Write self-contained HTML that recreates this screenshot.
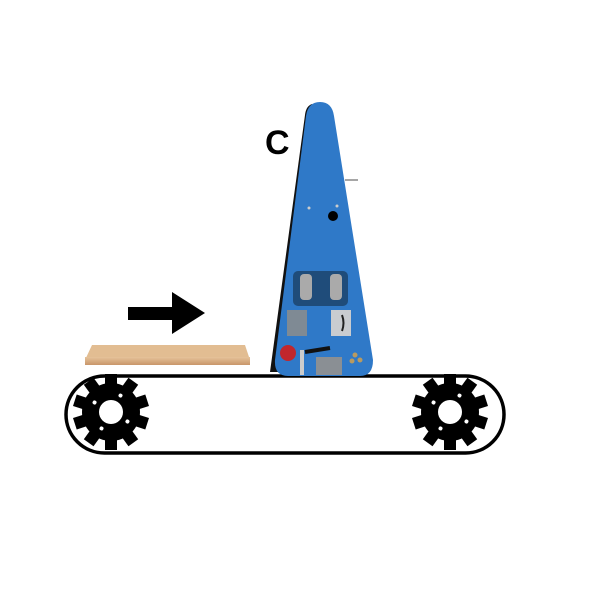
<!DOCTYPE html>
<html><head><style>body{margin:0;background:#fff}svg{display:block}</style></head><body>
<svg width="600" height="600" viewBox="0 0 600 600" xmlns="http://www.w3.org/2000/svg">
<defs>
<g id="gear">
<circle r="29" fill="#000"/>
<g fill="#000">
<rect x="-6" y="-38" width="12" height="12" transform="rotate(0)"/>
<rect x="-6" y="-38" width="12" height="12" transform="rotate(36)"/>
<rect x="-6" y="-38" width="12" height="12" transform="rotate(72)"/>
<rect x="-6" y="-38" width="12" height="12" transform="rotate(108)"/>
<rect x="-6" y="-38" width="12" height="12" transform="rotate(144)"/>
<rect x="-6" y="-38" width="12" height="12" transform="rotate(180)"/>
<rect x="-6" y="-38" width="12" height="12" transform="rotate(216)"/>
<rect x="-6" y="-38" width="12" height="12" transform="rotate(252)"/>
<rect x="-6" y="-38" width="12" height="12" transform="rotate(288)"/>
<rect x="-6" y="-38" width="12" height="12" transform="rotate(324)"/>
</g>
<circle r="12" fill="#fff"/>
<circle cx="0" cy="-19" r="2" fill="#fff" transform="rotate(30)"/>
<circle cx="0" cy="-19" r="2" fill="#fff" transform="rotate(120)"/>
<circle cx="0" cy="-19" r="2" fill="#fff" transform="rotate(210)"/>
<circle cx="0" cy="-19" r="2" fill="#fff" transform="rotate(300)"/>
</g>
<linearGradient id="wood" x1="0" y1="0" x2="0" y2="1">
<stop offset="0" stop-color="#e6c39a"/><stop offset="1" stop-color="#c8966a"/>
</linearGradient>
</defs>
<!-- belt -->
<rect x="66" y="376" width="438" height="77" rx="38.5" fill="#fff" stroke="#000" stroke-width="3.5"/>
<use href="#gear" x="111" y="412"/>
<use href="#gear" x="450" y="412"/>
<!-- wood -->
<polygon points="92,345 245,345 250,360 85,360" fill="#e2bd92"/>
<rect x="85" y="357" width="165" height="8" fill="url(#wood)"/>
<!-- arrow -->
<polygon points="128,307 172,307 172,292 205,313 172,334 172,320 128,320" fill="#000"/>
<!-- C -->
<text x="265" y="154" font-family="Liberation Sans, sans-serif" font-weight="bold" font-size="34" fill="#000">C</text>
<!-- machine -->
<line x1="345" y1="180" x2="358" y2="180" stroke="#888" stroke-width="1.5"/>
<path d="M305,115 Q306,106 312,104 L280,372 L270,372 Z" fill="#111"/>
<path d="M306,116 Q308,102 320,102 Q332,102 334,116 L373,360 Q373,376 360,376 L288,376 Q274,376 275,360 Z" fill="#2f79c8"/>
<circle cx="333" cy="216" r="5" fill="#000"/>
<circle cx="309" cy="208" r="1.5" fill="#ccc"/><circle cx="337" cy="206" r="1.5" fill="#ccc"/>
<rect x="293" y="271" width="55" height="35" rx="5" fill="#1f4c7a"/>
<rect x="300" y="274" width="12" height="26" rx="4" fill="#aaa"/>
<rect x="330" y="274" width="12" height="26" rx="4" fill="#aaa"/>
<rect x="287" y="310" width="20" height="26" fill="#7f8a94"/>
<rect x="331" y="310" width="20" height="26" fill="#c9ccd0"/>
<path d="M342,315 Q345,323 342,331" stroke="#222" stroke-width="2" fill="none"/>
<circle cx="288" cy="353" r="8" fill="#c1272d"/>
<rect x="300" y="350" width="4" height="25" fill="#ccc"/>
<path d="M305,352 L330,348" stroke="#111" stroke-width="4"/>
<rect x="316" y="357" width="26" height="18" fill="#8a8f94"/>
<circle cx="355" cy="355" r="2.5" fill="#b89a60"/><circle cx="360" cy="360" r="2.5" fill="#b89a60"/><circle cx="352" cy="361" r="2.5" fill="#b89a60"/>
</svg>
</body></html>
